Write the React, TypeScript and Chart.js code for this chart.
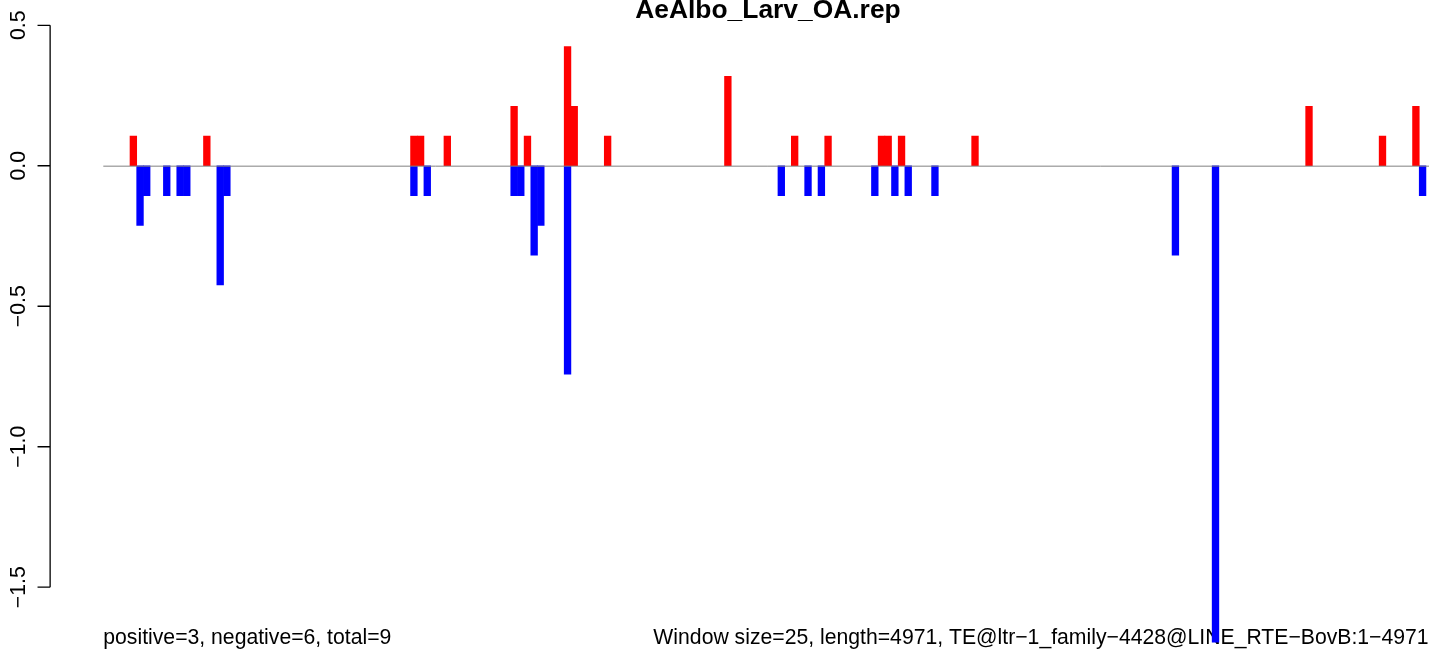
import { useEffect, useRef } from 'react';
import { Chart, registerables } from 'chart.js';

Chart.register(...registerables);

// ---- data ----
const WINDOW_SIZE = 25;
const SEQ_LENGTH = 4971;
const N_WINDOWS = 199;

const posIndex = [4, 15, 46, 47, 51, 61, 63, 69, 70, 75, 93, 103, 108, 116, 117, 119, 130, 180, 191, 196];
const posValue = [0.106, 0.106, 0.106, 0.106, 0.106, 0.212, 0.106, 0.424, 0.212, 0.106, 0.318, 0.106, 0.106, 0.106, 0.106, 0.106, 0.106, 0.212, 0.106, 0.212];

const negIndex = [5, 6, 9, 11, 12, 17, 18, 46, 48, 61, 62, 64, 65, 69, 101, 105, 107, 115, 118, 120, 124, 160, 166, 197];
const negValue = [-0.212, -0.106, -0.106, -0.106, -0.106, -0.424, -0.106, -0.106, -0.106, -0.106, -0.106, -0.318, -0.212, -0.742, -0.106, -0.106, -0.106, -0.106, -0.106, -0.106, -0.106, -0.318, -1.696, -0.106];

const yTicks = [0.5, 0, -0.5, -1, -1.5];
const Y_MIN = -1.727;
const Y_MAX = 0.59;

const TITLE = 'AeAlbo_Larv_OA.rep';
const FOOT_LEFT = 'positive=3, negative=6, total=9';
const FOOT_RIGHT = `Window size=${WINDOW_SIZE}, length=${SEQ_LENGTH}, TE@ltr\u22121_family\u22124428@LINE_RTE\u2212BovB:1\u2212${SEQ_LENGTH}`;

const FONT = '"Liberation Sans", Arial, Helvetica, sans-serif';

const fmtTick = (v: number) => v.toFixed(1).replace('-', '\u2212');

export default function App() {
  const ref = useRef<HTMLCanvasElement>(null);

  useEffect(() => {
    if (!ref.current) return;
    const labels = Array.from({ length: N_WINDOWS }, (_, i) => String(i * WINDOW_SIZE + 1));
    const pos: (number | null)[] = new Array(N_WINDOWS).fill(null);
    posIndex.forEach((k, j) => (pos[k] = posValue[j]));
    const neg: (number | null)[] = new Array(N_WINDOWS).fill(null);
    negIndex.forEach((k, j) => (neg[k] = negValue[j]));

    const decor = {
      id: 'rstyle',
      beforeDatasetsDraw(chart: any) {
        const { ctx, chartArea } = chart;
        const x = chart.scales.x;
        ctx.save();
        ctx.fillStyle = '#000';
        ctx.font = `21.2px ${FONT}`;
        ctx.textBaseline = 'alphabetic';
        ctx.textAlign = 'left';
        ctx.fillText(FOOT_LEFT, x.getPixelForValue(-0.5), 644);
        ctx.textAlign = 'right';
        ctx.fillText(FOOT_RIGHT, chartArea.right - 4, 644);
        ctx.restore();
      },
      afterDatasetsDraw(chart: any) {
        const { ctx } = chart;
        const x = chart.scales.x;
        const y = chart.scales.y;
        const y0 = y.getPixelForValue(0);
        ctx.save();
        ctx.strokeStyle = '#808080';
        ctx.lineWidth = 1;
        ctx.beginPath();
        ctx.moveTo(x.getPixelForValue(-0.5), y0 + 0.4);
        ctx.lineTo(x.getPixelForValue(N_WINDOWS - 0.5), y0 + 0.4);
        ctx.stroke();
        ctx.restore();
      },
      afterDraw(chart: any) {
        const { ctx } = chart;
        const x = chart.scales.x;
        const y = chart.scales.y;
        // R-style plot region extends 4% beyond bars
        const pad = 0.04 * N_WINDOWS;
        const axisX = x.getPixelForValue(-0.5 - pad);
        const centerX = x.getPixelForValue((N_WINDOWS - 1) / 2);
        ctx.save();
        ctx.strokeStyle = '#000';
        ctx.lineWidth = 1.3;
        ctx.beginPath();
        ctx.moveTo(axisX, y.getPixelForValue(yTicks[0]));
        ctx.lineTo(axisX, y.getPixelForValue(yTicks[yTicks.length - 1]));
        yTicks.forEach((t) => {
          const py = y.getPixelForValue(t);
          ctx.moveTo(axisX, py);
          ctx.lineTo(axisX - 12.6, py);
        });
        ctx.stroke();
        ctx.fillStyle = '#000';
        ctx.font = `21.2px ${FONT}`;
        ctx.textAlign = 'center';
        ctx.textBaseline = 'alphabetic';
        yTicks.forEach((t) => {
          const py = y.getPixelForValue(t);
          ctx.save();
          ctx.translate(axisX - 25.2, py);
          ctx.rotate(-Math.PI / 2);
          ctx.fillText(fmtTick(t), 0, 0);
          ctx.restore();
        });
        ctx.font = `bold 26.4px ${FONT}`;
        ctx.fillText(TITLE, centerX, 18.3);
        ctx.restore();
      },
    };

    const chart = new Chart(ref.current, {
      type: 'bar',
      data: {
        labels,
        datasets: [
          {
            label: 'positive',
            data: pos,
            backgroundColor: '#FF0000',
            borderWidth: 0,
            categoryPercentage: 1,
            barPercentage: 1,
            stack: 's',
          },
          {
            label: 'negative',
            data: neg,
            backgroundColor: '#0000FF',
            borderWidth: 0,
            categoryPercentage: 1,
            barPercentage: 1,
            stack: 's',
          },
        ],
      },
      options: {
        animation: false,
        responsive: false,
        devicePixelRatio: 1,
        layout: { padding: { left: 103.3, right: 0.4, top: 0, bottom: 0 } },
        plugins: { legend: { display: false }, tooltip: { enabled: false }, title: { display: false } },
        scales: {
          x: { stacked: true, display: false, offset: true, grid: { display: false } },
          y: { stacked: true, display: false, min: Y_MIN, max: Y_MAX, grid: { display: false } },
        },
      },
      plugins: [decor],
    });
    return () => chart.destroy();
  }, []);

  return (
    <div style={{ position: 'absolute', left: 0, top: 0, width: 1429, height: 651, overflow: 'hidden', background: '#fff' }}>
      <canvas ref={ref} width={1433} height={651} style={{ display: 'block' }} />
    </div>
  );
}
